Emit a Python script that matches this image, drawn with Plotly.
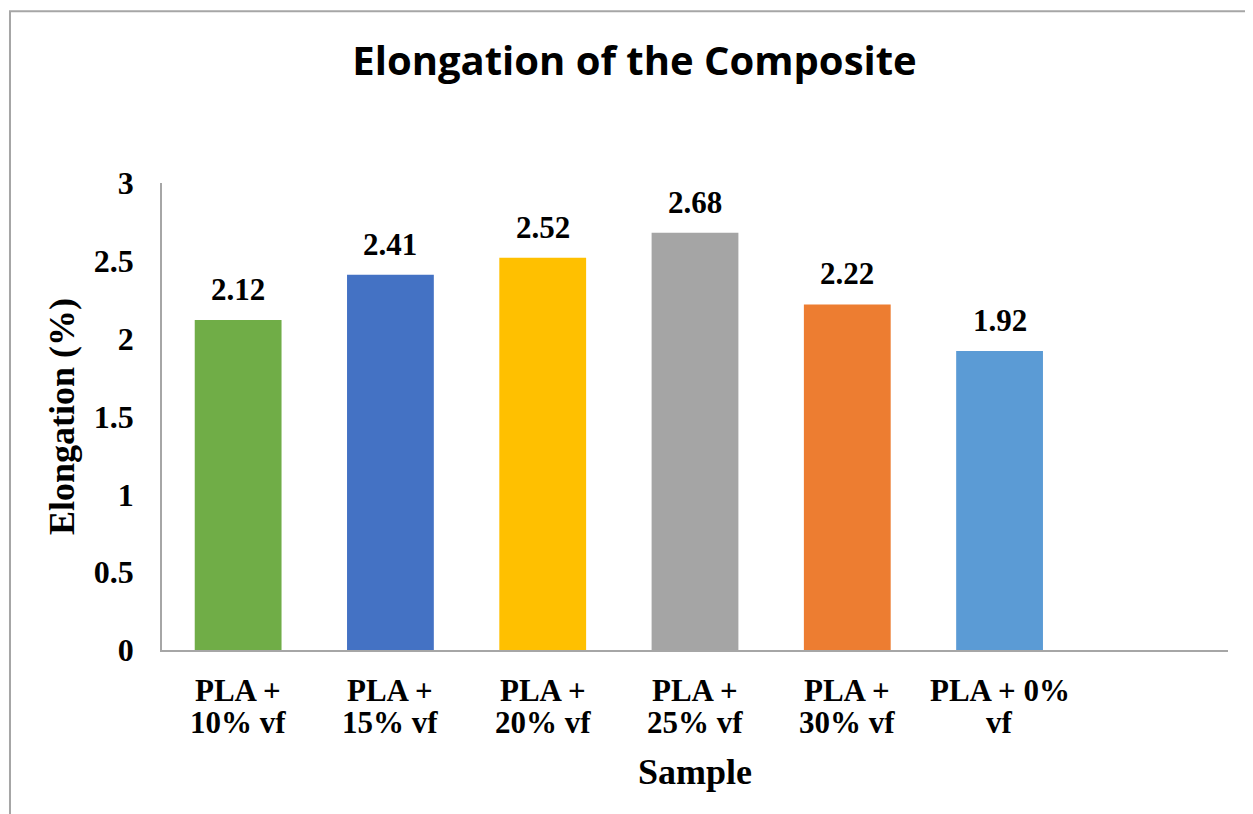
import plotly.graph_objects as go

line1 = ["PLA +", "PLA +", "PLA +", "PLA +", "PLA +", "PLA + 0%"]
line2 = ["10% vf", "15% vf", "20% vf", "25% vf", "30% vf", "vf"]
categories = [a + " " + b for a, b in zip(line1, line2)]
values = [2.12, 2.41, 2.52, 2.68, 2.22, 1.92]
colors = ["#70AD47", "#4472C4", "#FFC000", "#A5A5A5", "#ED7D31", "#5B9BD5"]
yticks = [0, 0.5, 1, 1.5, 2, 2.5, 3]
ytick_text = ["0", "0.5", "1", "1.5", "2", "2.5", "3"]

serif = "Liberation Serif"
TICK = 31
TITLE = 36

fig = go.Figure()
fig.add_trace(go.Bar(
    x=categories, y=values, marker=dict(color=colors, line=dict(width=0)),
    textposition="none", hoverinfo="x+y",
))

annotations = []
for c, v in zip(categories, values):
    annotations.append(dict(x=c, y=v, xref="x", yref="y", text=f"<b>{v:.2f}</b>",
                            showarrow=False, yanchor="bottom", yshift=11,
                            font=dict(family=serif, size=TICK, color="black")))
for c, a, b in zip(categories, line1, line2):
    annotations.append(dict(x=c, y=-0.0857, xref="x", yref="paper", text=f"<b>{a}</b>",
                            showarrow=False, yanchor="middle",
                            font=dict(family=serif, size=TICK, color="black")))
    annotations.append(dict(x=c, y=-0.1542, xref="x", yref="paper", text=f"<b>{b}</b>",
                            showarrow=False, yanchor="middle",
                            font=dict(family=serif, size=TICK, color="black")))

fig.update_layout(
    width=1253, height=814,
    paper_bgcolor="white", plot_bgcolor="white",
    margin=dict(l=154, r=33, t=175, b=172),
    bargap=0.43,
    showlegend=False,
    title=dict(text="<b>Elongation of the Composite</b>", x=0.5, xanchor="center",
               y=0.935, yanchor="middle",
               font=dict(family="Open Sans", size=40, color="black")),
    annotations=annotations,
    shapes=[dict(type="rect", xref="paper", yref="paper", x0=-0.1426, x1=1.2, y0=-0.5, y1=1.368,
                 line=dict(color="#A6A6A6", width=2), fillcolor="rgba(0,0,0,0)", layer="below")],
)

fig.update_xaxes(
    type="category", categoryarray=categories, range=[-0.5, 6.5],
    showline=True, linecolor="#A6A6A6", linewidth=1.5, showgrid=False,
    ticks="", showticklabels=False,
    title=dict(text="<b>Sample</b>", font=dict(family=serif, size=TITLE, color="black"), standoff=108),
)

fig.update_yaxes(
    range=[0, 3], tickvals=yticks, ticktext=[f"<b>{t}</b>" for t in ytick_text],
    showline=True, linecolor="#A6A6A6", linewidth=1.5, showgrid=False, zeroline=False,
    ticks="", tickfont=dict(family=serif, size=32, color="black"),
    ticklabelstandoff=20,
    title=dict(text="<b>Elongation (%)</b>", font=dict(family=serif, size=TITLE, color="black"), standoff=8),
)

fig.write_html("out.html")
